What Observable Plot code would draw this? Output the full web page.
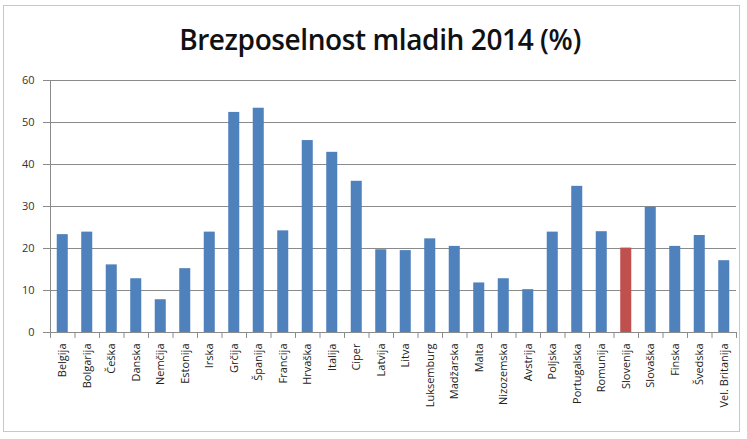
<!DOCTYPE html>
<html>
<head>
<meta charset="utf-8">
<script src="https://cdn.jsdelivr.net/npm/d3@7"></script>
<script src="https://cdn.jsdelivr.net/npm/@observablehq/plot@0.6"></script>
<style>
  html, body { margin: 0; padding: 0; background: #fff; }
  #wrap { position: relative; width: 747px; height: 439px; overflow: hidden; }
  #frame { position: absolute; left: 3px; top: 5px; width: 737px; height: 427px; border: 1px solid #c8c8c8; box-sizing: border-box; }
  #title { position: absolute; left: 0; width: 760px; top: 25px; line-height: 28px; text-align: center; font-family: "Open Sans", sans-serif; font-weight: 600; font-size: 28px; color: #111; letter-spacing: -0.4px; white-space: nowrap; }
  #chart { position: absolute; left: 0; top: 0; }
</style>
</head>
<body>
<div id="wrap">
  <div id="frame"></div>
  <div id="chart"></div>
  <div id="title">Brezposelnost mladih 2014 (%)</div>
</div>
<script>
const countries = ["Belgija","Bolgarija","Češka","Danska","Nemčija","Estonija","Irska","Grčija","Španija","Francija","Hrvaška","Italija","Ciper","Latvija","Litva","Luksemburg","Madžarska","Malta","Nizozemska","Avstrija","Poljska","Portugalska","Romunija","Slovenija","Slovaška","Finska","Švedska","Vel. Britanija"];
const values = [23.3, 23.9, 16.1, 12.8, 7.8, 15.2, 23.9, 52.4, 53.4, 24.2, 45.7, 42.9, 36.0, 19.7, 19.5, 22.3, 20.5, 11.8, 12.8, 10.2, 23.9, 34.8, 24.0, 20.1, 29.8, 20.5, 23.1, 17.1];
const yTicks = [0, 10, 20, 30, 40, 50, 60];
const highlight = "Slovenija";
const blue = "#4f81bd";
const red = "#c0504d";

const data = countries.map((c, i) => ({country: c, value: values[i]}));

const W = 747, H = 439, mL = 50, mR = 11, mT = 80, mB = 107;
const step = (W - mL - mR) / countries.length;

const chart = Plot.plot({
  width: W,
  height: H,
  marginTop: mT,
  marginBottom: mB,
  marginLeft: mL,
  marginRight: mR,
  style: {fontFamily: "'Open Sans', sans-serif", fontSize: "11px", color: "#333", background: "transparent", overflow: "visible"},
  x: {domain: countries, paddingInner: 0.55, paddingOuter: 0.275, round: false, label: null},
  y: {domain: [0, 60], label: null},
  marks: [
    Plot.gridY(yTicks.filter(t => t > 0), {stroke: "#8a8a8a", strokeOpacity: 1}),
    Plot.axisY(yTicks, {tickSize: 7, tickPadding: 9, stroke: "#8a8a8a", fill: "#333", label: null}),
    Plot.barY(data, {filter: d => d.country !== highlight, x: "country", y: "value", fill: blue}),
    Plot.barY(data, {filter: d => d.country === highlight, x: "country", y: "value", fill: red}),
    Plot.ruleX([countries[0]], {y1: 0, y2: 60, dx: -step / 2, stroke: "#8a8a8a"}),
    Plot.ruleY([0], {stroke: "#8a8a8a"}),
    Plot.ruleX(countries, {y1: 0, y2: -1.4, dx: -step / 2, stroke: "#8a8a8a"}),
    Plot.ruleX([countries[countries.length - 1]], {y1: 0, y2: -1.4, dx: step / 2, stroke: "#8a8a8a"}),
    Plot.axisX({tickSize: 0, tickPadding: 11, tickRotate: -90, fill: "#222", label: null})
  ]
});
document.getElementById("chart").appendChild(chart);
</script>
</body>
</html>
